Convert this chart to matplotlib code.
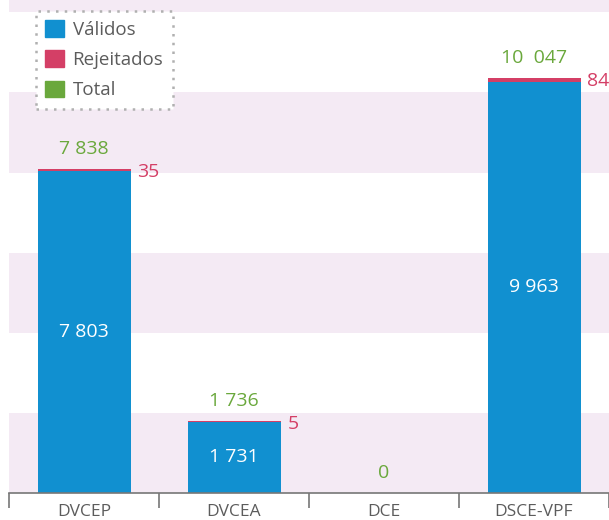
import matplotlib.pyplot as plt
from matplotlib.patches import Patch

plt.rcParams['font.family'] = ['Open Sans', 'DejaVu Sans']

categories = ["DVCEP", "DVCEA", "DCE", "DSCE-VPF"]
validos = [7803, 1731, 0, 9963]
rejeitados = [35, 5, 0, 84]
total = [7838, 1736, 0, 10047]
total_labels = ["7 838", "1 736", "0", "10  047"]
valid_labels = ["7 803", "1 731", "", "9 963"]

BLUE = "#1190d0"
RED = "#d43f66"
GREEN = "#6aa83c"
PINK = "#f4eaf4"
GREY = "#5c5c5c"

fig = plt.figure(figsize=(6.09, 5.20), dpi=100)
ax = fig.add_axes([9 / 609, 27 / 520, 600 / 609, 493 / 520])
ax.set_facecolor(PINK)

YMAX = 11937
BAND = 1940
for i in range(1, 7, 2):
    ax.axhspan(i * BAND, (i + 1) * BAND, color="white", lw=0, zorder=0)

x = list(range(len(categories)))
ax.bar(x, validos, width=0.62, color=BLUE, zorder=2)
ax.bar(x, rejeitados, bottom=validos, width=0.62, color=RED, zorder=2)

for i in x:
    ax.annotate(total_labels[i], (i, total[i]), xytext=(0, 8), textcoords="offset points",
                ha="center", va="bottom", color=GREEN, fontsize=14)
    if rejeitados[i] > 0:
        ax.annotate(str(rejeitados[i]), (i + 0.31, total[i]), xytext=(5, -2),
                    textcoords="offset points", ha="left", va="center",
                    color=RED, fontsize=14)
    if validos[i] > 0:
        ax.text(i, validos[i] / 2, valid_labels[i], ha="center", va="center",
                color="white", fontsize=14)

ax.set_xlim(-0.5, 3.5)
ax.set_ylim(0, YMAX)
ax.set_yticks([])
for s in ["left", "right", "top"]:
    ax.spines[s].set_visible(False)
ax.spines["bottom"].set_color("#777777")
ax.spines["bottom"].set_linewidth(1.2)

ax.set_xticks([-0.5, 0.5, 1.5, 2.5, 3.5])
ax.set_xticklabels([])
ax.tick_params(axis="x", which="major", length=11, width=1.2, color="#777777")
ax.set_xticks(x, minor=True)
ax.set_xticklabels(categories, minor=True, color=GREY, fontsize=12.5)
ax.tick_params(axis="x", which="minor", length=0, pad=8)

handles = [Patch(color=BLUE, label="Válidos"),
           Patch(color=RED, label="Rejeitados"),
           Patch(color=GREEN, label="Total")]
leg = fig.legend(handles=handles, loc="upper left", bbox_to_anchor=(36 / 609, 1 - 11 / 520),
                 borderaxespad=0, fontsize=13.5, handlelength=1.0, handleheight=1.0,
                 handletextpad=0.45, labelspacing=0.6, borderpad=0.5, fancybox=False,
                 framealpha=1, labelcolor=GREY)
frame = leg.get_frame()
frame.set_edgecolor("#b0b0b0")
frame.set_linestyle((0, (1, 2.5)))
frame.set_linewidth(1.8)

fig.savefig("out.png", dpi=100)
